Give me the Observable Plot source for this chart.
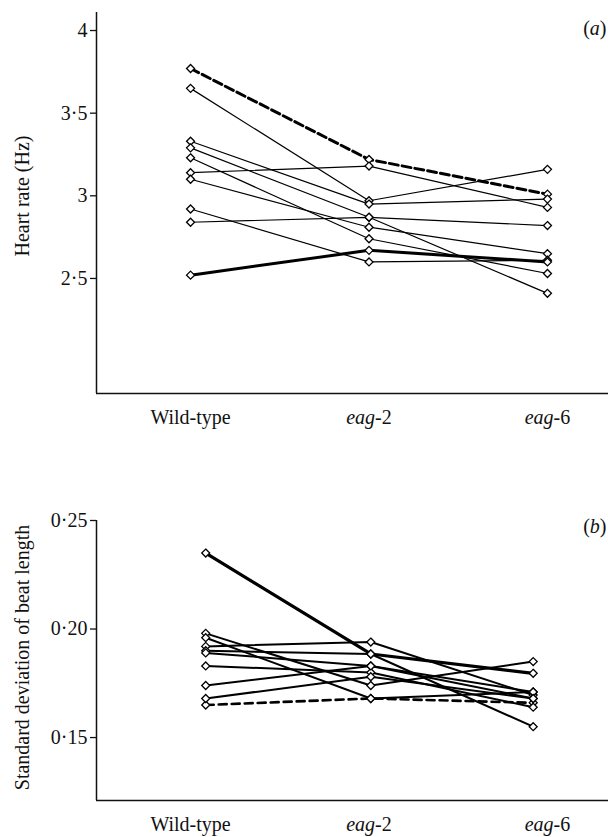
<!DOCTYPE html>
<html><head><meta charset="utf-8">
<script src="https://cdn.jsdelivr.net/npm/d3@7"></script>
<script src="https://cdn.jsdelivr.net/npm/@observablehq/plot@0.6"></script>
<style>
body{margin:0;background:#fff;}
#chart{width:608px;}
#chart svg{display:block;}
</style></head><body><div id="chart"></div>
<script>
// ---- data ----
const groups = ["Wild-type", "eag-2", "eag-6"];

// Panel (a): heart rate (Hz), one value per animal line
const heartWT   = [3.77, 3.65, 3.33, 3.29, 3.23, 3.14, 3.10, 2.92, 2.84, 2.52];
const heartEag2 = [3.22, 2.97, 2.95, 2.87, 2.74, 3.18, 2.81, 2.60, 2.87, 2.67];
const heartEag6 = [3.01, 3.16, 2.98, 2.41, 2.53, 2.93, 2.65, 2.61, 2.82, 2.60];
const heartTicks = [2.5, 3, 3.5, 4];

// Panel (b): standard deviation of beat length
const sdWT   = [0.235, 0.165, 0.192, 0.198, 0.196, 0.190, 0.189, 0.183, 0.174, 0.168];
const sdEag2 = [0.1885, 0.168, 0.194, 0.174, 0.168, 0.1885, 0.183, 0.180, 0.183, 0.178];
const sdEag6 = [0.1796, 0.166, 0.1696, 0.185, 0.171, 0.155, 0.168, 0.164, 0.171, 0.168];
const sdTicks = [0.15, 0.20, 0.25];

// ---- build tidy tables ----
function tidy(a, b, c) {
  const out = [];
  a.forEach((_, i) => [a, b, c].forEach((arr, g) => out.push({line: i, g, v: arr[i]})));
  return out;
}
const dataA = tidy(heartWT, heartEag2, heartEag6);
const dataB = tidy(sdWT, sdEag2, sdEag6);

const font = "'Liberation Serif', 'Times New Roman', serif";
const xDomain = [-0.527, 2.342];

function panel(o) {
  const nudge = o.nudge;
  const X = d => d.g + nudge[d.g];
  const normal = o.data.filter(d => d.line !== o.dashed && d.line !== o.thick);
  const dashed = o.data.filter(d => d.line === o.dashed);
  const thick = o.data.filter(d => d.line === o.thick);
  return Plot.plot({
    width: 608, height: o.height,
    marginLeft: 96, marginRight: 0, marginTop: o.marginTop, marginBottom: o.marginBottom,
    style: {fontFamily: font, fontSize: "20px", color: "#111", background: "white"},
    x: {type: "linear", domain: xDomain},
    y: {type: "linear", domain: o.yDomain},
    marks: [
      Plot.ruleX([xDomain[0]], {stroke: "#111", strokeWidth: 1.5}),
      Plot.ruleY([o.yDomain[0]], {stroke: "#111", strokeWidth: 1.5}),
      Plot.axisY({ticks: o.yTicks, tickFormat: o.yFmt, tickSize: 6, tickPadding: 3, label: null, strokeWidth: 1.3}),
      Plot.axisX({ticks: [0, 1, 2], tickFormat: i => groups[i], tickSize: 0, tickPadding: o.xPad, label: null}),
      Plot.line(normal, {x: X, y: "v", z: "line", stroke: "#000", strokeWidth: o.wNorm}),
      Plot.line(thick, {x: X, y: "v", z: "line", stroke: "#000", strokeWidth: o.wThick}),
      Plot.line(dashed, {x: X, y: "v", z: "line", stroke: "#000", strokeWidth: o.wDash, strokeDasharray: o.dash}),
      Plot.dot(o.data, {x: X, y: "v", symbol: "diamond2", r: 3.6, fill: "white", stroke: "#000", strokeWidth: 1.3}),
      Plot.text([o.yLabel], {frameAnchor: "left", rotate: -90, dx: -74, dy: o.labelDy, textAnchor: "middle", lineAnchor: "middle"}),
      Plot.text([o.tag], {frameAnchor: "top-right", dx: -2, dy: o.tagDy, textAnchor: "end", lineAnchor: "middle"})
    ]
  });
}

const chartA = panel({
  data: dataA, height: 450, marginTop: 12, marginBottom: 57,
  yDomain: [1.804, 4.109], yTicks: heartTicks,
  yFmt: d => String(d).replace(".", "\u00b7"),
  yLabel: "Heart rate (Hz)", labelDy: -7, tag: "(a)", tagDy: 16, xPad: 16,
  nudge: [0, 0, 0], dashed: 0, thick: 9,
  wNorm: 1.2, wThick: 3, wDash: 3, dash: "9,4"
});
const chartB = panel({
  data: dataB, height: 387, marginTop: 70, marginBottom: 37,
  yDomain: [0.121, 0.25], yTicks: sdTicks,
  yFmt: d => d.toFixed(2).replace(".", "\u00b7"),
  yLabel: "Standard deviation of beat length", labelDy: -3, tag: "(b)", tagDy: 6, xPad: 16,
  nudge: [0.085, 0.01, -0.08], dashed: 1, thick: 0,
  wNorm: 2, wThick: 3.2, wDash: 2.6, dash: "8,5"
});

// italic parts of the labels (kept as real text)
function italicize(svg) {
  svg.querySelectorAll("text").forEach(t => {
    const s = t.textContent;
    let m;
    if ((m = /^(eag)(-\d)$/.exec(s))) {
      t.textContent = "";
      const a = document.createElementNS("http://www.w3.org/2000/svg", "tspan");
      a.setAttribute("font-style", "italic"); a.textContent = m[1];
      const b = document.createElementNS("http://www.w3.org/2000/svg", "tspan");
      b.textContent = m[2];
      t.appendChild(a); t.appendChild(b);
    } else if ((m = /^\((\w)\)$/.exec(s))) {
      t.textContent = "";
      const p1 = document.createElementNS("http://www.w3.org/2000/svg", "tspan"); p1.textContent = "(";
      const a = document.createElementNS("http://www.w3.org/2000/svg", "tspan");
      a.setAttribute("font-style", "italic"); a.textContent = m[1];
      const p2 = document.createElementNS("http://www.w3.org/2000/svg", "tspan"); p2.textContent = ")";
      t.appendChild(p1); t.appendChild(a); t.appendChild(p2);
    }
  });
}
italicize(chartA); italicize(chartB);
const root = document.getElementById("chart");
root.appendChild(chartA);
root.appendChild(chartB);
</script>
</body></html>
